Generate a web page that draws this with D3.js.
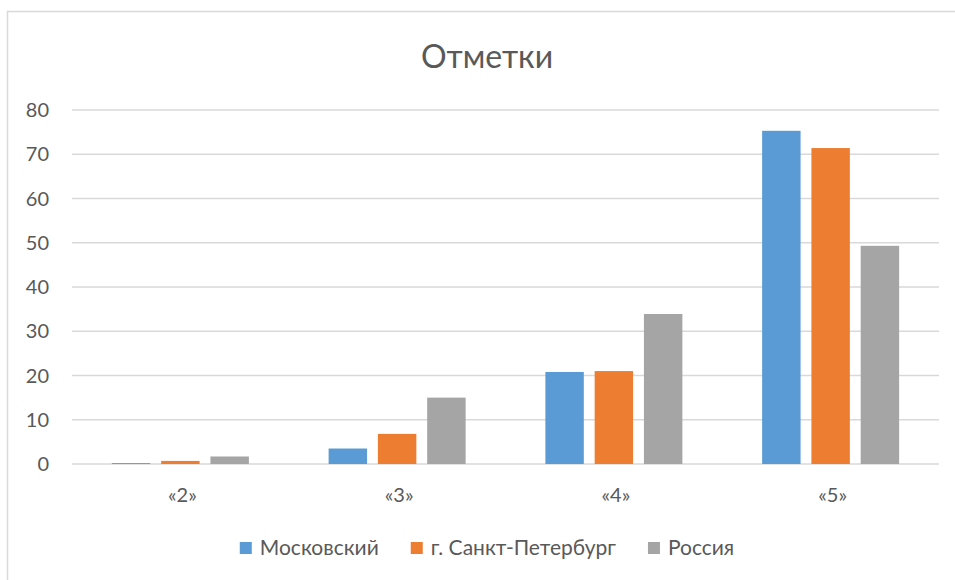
<!DOCTYPE html>
<html>
<head>
<meta charset="utf-8">
<script src="https://cdn.jsdelivr.net/npm/d3@7"></script>
<style>
  body { margin: 0; background: #fff; }
  text { font-family: Lato, "Open Sans", sans-serif; fill: #595959; }
</style>
</head>
<body>
<svg id="chart"></svg>
<script>
var categories = ['«2»', '«3»', '«4»', '«5»'];
var seriesNames = ['Московский', 'г. Санкт-Петербург', 'Россия'];
var moscow = [0.2, 3.5, 20.8, 75.3];
var spb = [0.7, 6.8, 21.0, 71.4];
var russia = [1.7, 15.0, 33.9, 49.3];
var yTicks = [0, 10, 20, 30, 40, 50, 60, 70, 80];
var colors = ['#5b9bd5', '#ed7d31', '#a5a5a5'];

var width = 955;
var height = 580;
var plotLeft = 72, plotRight = 939, plotTop = 110, plotBottom = 464;

var svg = d3.select('#chart')
    .attr('width', width)
    .attr('height', height);

// chart frame (only top and left edges are visible)
svg.append('path')
    .attr('d', 'M7.5,' + height + 'V11.5H' + width)
    .attr('fill', 'none')
    .attr('stroke', '#d9d9d9')
    .attr('stroke-width', 1.5);

svg.append('text')
    .attr('x', 487)
    .attr('y', 68)
    .attr('text-anchor', 'middle')
    .style('font-size', '32px')
    .text('Отметки');

var x0 = d3.scaleBand()
    .domain(categories)
    .range([plotLeft, plotRight]);

var x1 = d3.scaleBand()
    .domain(seriesNames)
    .range([0, 137])
    .paddingInner(0.22);

var y = d3.scaleLinear()
    .domain([0, 80])
    .range([plotBottom, plotTop]);

// gridlines
svg.append('g')
  .selectAll('line')
  .data(yTicks)
  .enter()
  .append('line')
    .attr('x1', plotLeft)
    .attr('x2', plotRight)
    .attr('y1', d => y(d))
    .attr('y2', d => y(d))
    .attr('stroke', '#d9d9d9')
    .attr('stroke-width', 1.5);

// y labels
svg.append('g')
  .selectAll('text')
  .data(yTicks)
  .enter()
  .append('text')
    .attr('x', 49)
    .attr('y', d => y(d) + 7)
    .attr('text-anchor', 'end')
    .style('font-size', '20px')
    .text(d => d);

var table = categories.map((c, i) => ({
  cat: c,
  values: [moscow[i], spb[i], russia[i]]
}));

var groups = svg.append('g')
  .selectAll('g')
  .data(table)
  .enter()
  .append('g')
    .attr('transform', d => 'translate(' + (x0(d.cat) + x0.bandwidth() / 2 - 68.5) + ',0)');

groups.selectAll('rect')
  .data(d => d.values.map((v, j) => ({ name: seriesNames[j], value: v, j: j })))
  .enter()
  .append('rect')
    .attr('x', d => x1(d.name))
    .attr('width', x1.bandwidth())
    .attr('y', d => y(d.value))
    .attr('height', d => y(0) - y(d.value))
    .attr('fill', d => colors[d.j]);

// x labels
svg.append('g')
  .selectAll('text')
  .data(categories)
  .enter()
  .append('text')
    .attr('x', d => x0(d) + x0.bandwidth() / 2 + 2)
    .attr('y', 502)
    .attr('text-anchor', 'middle')
    .style('font-size', '20px')
    .text(d => d);

// legend, centred under the title
var legendG = svg.append('g');
var legend = legendG
  .selectAll('g')
  .data(seriesNames)
  .enter()
  .append('g');

legend.append('rect')
    .attr('y', 542)
    .attr('width', 12)
    .attr('height', 12)
    .attr('fill', (d, i) => colors[i]);

legend.append('text')
    .attr('x', 20)
    .attr('y', 555)
    .style('font-size', '21px')
    .text(d => d);

var pos = 0;
legend.each(function() {
  var w = d3.select(this).select('text').node().getComputedTextLength() + 20;
  d3.select(this).attr('transform', 'translate(' + pos + ',0)');
  pos += w + 32;
});
var total = pos - 32;
legendG.attr('transform', 'translate(' + (487 - total / 2) + ',0)');
</script>
</body>
</html>
